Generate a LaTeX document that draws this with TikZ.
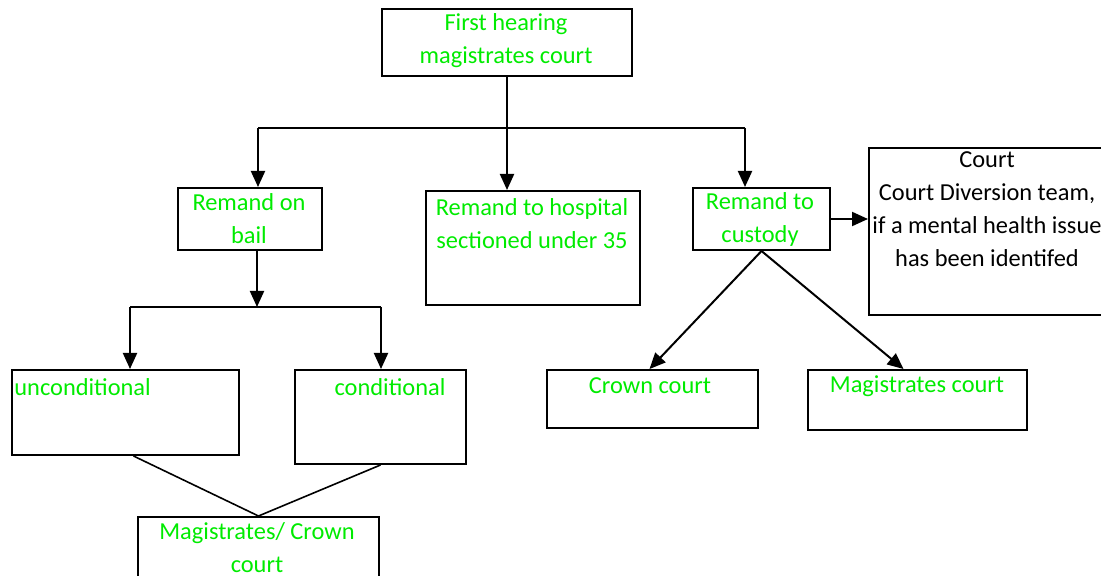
\documentclass[tikz,border=0pt]{standalone}
\usepackage{fontspec}
\setmainfont{Carlito}
\usetikzlibrary{arrows.meta}
\definecolor{txtgreen}{RGB}{0,235,0}

\tikzset{
  box/.style={draw, line width=1pt, inner sep=0pt, anchor=north west},
  lbl/.style={text=txtgreen, align=center, inner sep=0pt, font=\fontsize{12.2}{16.5}\selectfont},
  arr/.style={line width=1pt, -{Triangle[length=8pt,width=7pt]}},
  ln/.style={line width=0.8pt}
}

\begin{document}
\begin{tikzpicture}[x=0.5pt, y=-0.5pt]

        \clip (0,0) rectangle (1101,576);

        \node[box, minimum width=125pt, minimum height=33.5pt] (first) at (381,8) {};
        \node[box, minimum width=72pt, minimum height=31pt] (bail) at (177,187) {};
        \node[box, minimum width=107pt, minimum height=57pt] (hosp) at (425,190) {};
        \node[box, minimum width=68.5pt, minimum height=31pt] (cust) at (692,187) {};
        \node[box, minimum width=120pt, minimum height=83.5pt] (court) at (868,147) {};
        \node[box, minimum width=113.5pt, minimum height=42.5pt] (uncond) at (11,369) {};
        \node[box, minimum width=85.5pt, minimum height=47pt] (cond) at (294,369) {};
        \node[box, minimum width=105.5pt, minimum height=29pt] (crown) at (546,369) {};
        \node[box, minimum width=109.5pt, minimum height=30pt] (mag) at (807,369) {};
        \node[box, minimum width=120.5pt, minimum height=40pt] (magcr) at (137,516) {};

        \node[lbl] (firsttxt) at (506,41) {First hearing\\magistrates court};
        \node[lbl] (bailtxt) at (249,219) {Remand on\\bail};
        \node[lbl] (hosptxt) at (532,224) {Remand to hospital\\sectioned under 35};
        \node[lbl] (custtxt) at (760,219) {Remand to\\custody};
        \node[lbl, text=black] (courttxt) at (987,209) {Court\\Court Diversion team,\\if a mental health issue\\has been identifed};
        \node[lbl, anchor=west] (uncondtxt) at (14,387) {unconditional};
        \node[lbl] (condtxt) at (390,387) {conditional};
        \node[lbl] (crowntxt) at (650,386) {Crown court};
        \node[lbl] (magtxt) at (917,386) {Magistrates court};
        \node[lbl] (magcrtxt) at (257,548) {Magistrates/ Crown\\court};

        \coordinate (jl) at (258,128);
        \coordinate (jr) at (745,128);
        \coordinate (jb) at (257,307);
        \coordinate (kl) at (130,307);
        \coordinate (kr) at (381,307);

        \draw[ln] (jl) -- (jr);
        \draw[arr] (first.south) -- (first.south |- hosp.north);
        \draw[arr] (jl) -- (jl |- bail.north);
        \draw[arr] (jr) -- (jr |- cust.north);

        \draw[arr] (jb |- bail.south) -- (jb);
        \draw[ln] (kl) -- (kr);
        \draw[arr] (kl) -- (kl |- uncond.north);
        \draw[arr] (kr) -- (kr |- cond.north);

        \draw[arr] (cust.east) -- (cust.east -| court.west);
        \draw[arr] (cust.south) -- ([xshift=-1.5pt]crown.north);
        \draw[arr] (cust.south) -- ([xshift=-7pt]mag.north);

        \draw[ln] ([xshift=4pt]uncond.south) -- (magcr.north);
        \draw[ln] (cond.south) -- (magcr.north);

\end{tikzpicture}
\end{document}
